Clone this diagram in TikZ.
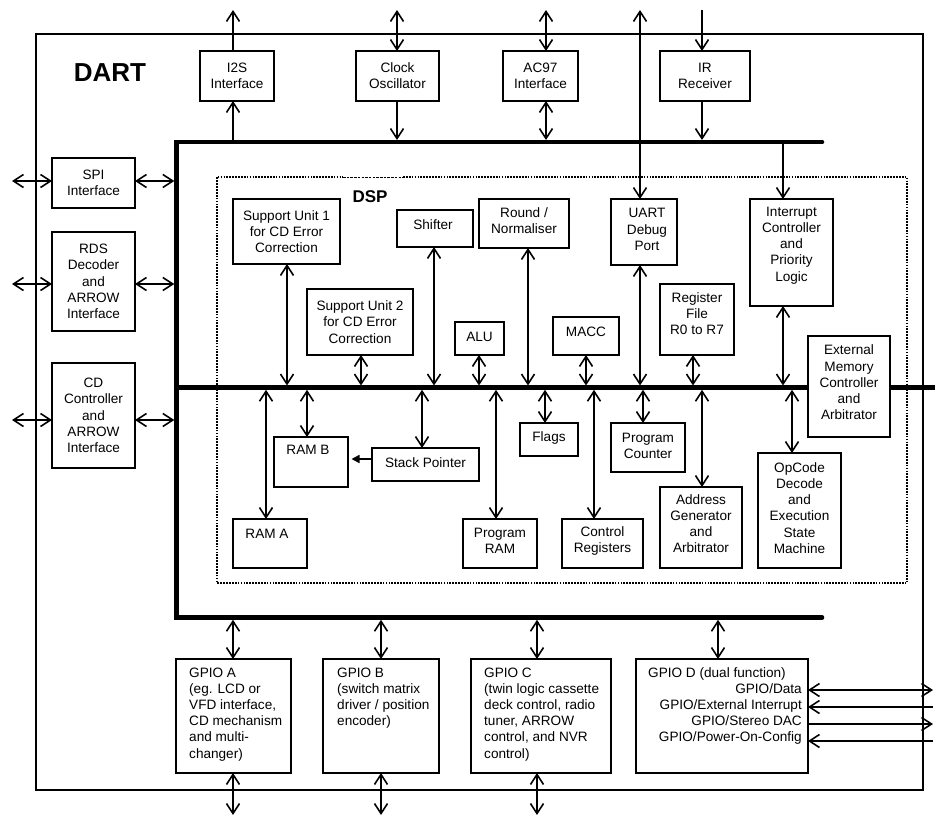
\documentclass[tikz,border=0pt]{standalone}
\usepackage{fontspec}
\setmainfont{Liberation Sans}
\usetikzlibrary{arrows.meta}
\newcommand\blk[7][]{%
  \node[box, minimum width={(#5)-(#3)}, minimum height={(#6)-(#4)}] (#2) at ({((#3)+(#5))/2},{((#4)+(#6))/2}) {};
  \node[txt,#1] (#2t) at (#2.center) {#7};}
\begin{document}
\begin{tikzpicture}[x=1pt,y=-1pt,
  box/.style={draw, line width=1.8pt, fill=white, inner sep=0pt, outer sep=0pt},
  txt/.style={font=\fontsize{13.6}{16.2}\selectfont, align=center, inner sep=0pt},
  con/.style={line width=1.6pt},
  bus/.style={line width=4.6pt, line cap=round},
  >={Straight Barb[length=10pt,width=13pt]}]
\useasboundingbox (0,0) rectangle (935,817);

% outer DART frame and DSP region
\draw[line width=1.3pt] (36,34) rectangle (923,790);
\node[font=\fontsize{26}{30}\selectfont\bfseries, inner sep=0pt] (dart) at (110,73) {DART};
\draw[line width=2pt, dash pattern=on 1.7pt off 1.2pt] (403,177) -- (907,177) -- (907,583) -- (217,583) -- (217,177) -- (343,177);
\draw[line width=1pt, dash pattern=on 2.5pt off 1.2pt] (343,177) -- (403,177);
\node[font=\fontsize{17}{20}\selectfont\bfseries, inner sep=0pt] (dsp) at (370,197) {DSP};

% buses
\coordinate (TBL) at (176.5,142);
\coordinate (TBR) at (822,142);
\coordinate (BBL) at (176.5,617.5);
\coordinate (BBR) at (822,617.5);
\coordinate (MBL) at (176.5,387.5);
\coordinate (MBR) at (945,387.5);
\draw[bus] (TBR) -- (TBL) -- (BBL) -- (BBR);
\draw[bus] (MBL) -- (MBR);

% free ends
\coordinate (topE) at (0,10);
\coordinate (botE) at (0,815);
\coordinate (leftE) at (12,0);
\coordinate (rightE) at (933,0);

% top blocks
\blk{i2s}{200}{51}{274}{101}{I2S\\Interface}
\blk{clk}{356}{51}{439}{101}{Clock\\Oscillator}
\blk{ac97}{503}{51}{578}{101}{AC97\\Interface}
\blk{ir}{660}{51}{750}{101}{IR\\Receiver}
% left blocks
\blk{spi}{52}{158}{135}{208}{SPI\\Interface}
\blk{rds}{52}{232}{135}{331}{RDS\\Decoder\\and\\ARROW\\Interface}
\blk{cd}{52}{363}{135}{468}{CD\\Controller\\and\\ARROW\\Interface}
% DSP upper
\blk{su1}{233}{199}{340}{264}{Support Unit 1\\for CD Error\\Correction}
\blk{su2}{307}{289}{413}{355}{Support Unit 2\\for CD Error\\Correction}
\blk[yshift=4pt,xshift=-2pt]{shf}{397}{210}{473}{247}{Shifter}
\blk[yshift=3pt]{rnd}{479}{199}{569}{248}{Round /\\Normaliser}
\blk[yshift=2pt]{alu}{455}{322}{504}{355}{ALU}
\blk[yshift=4pt]{macc}{553}{317}{619}{355}{MACC}
\blk[yshift=2.5pt,xshift=3pt]{uart}{611}{199}{677}{265}{UART\\Debug\\Port}
\blk[yshift=6pt]{reg}{660}{284}{734}{355}{Register\\File\\R0 to R7}
\blk[yshift=7pt]{intc}{750}{199}{833}{306}{Interrupt\\Controller\\and\\Priority\\Logic}
\blk[yshift=4pt]{ext}{808}{336}{890}{437}{External\\Memory\\Controller\\and\\Arbitrator}
% DSP lower
\blk[yshift=12pt,xshift=-3pt]{ramb}{274}{437}{348}{487}{RAM B}
\blk[yshift=2pt]{sp}{372}{448}{479}{481}{Stack Pointer}
\blk[yshift=10pt,xshift=-3pt]{rama}{233}{519}{307}{568}{RAM A}
\blk[yshift=2.5pt]{pram}{463}{519}{537}{568}{Program\\RAM}
\blk[yshift=2pt]{flags}{520}{423}{578}{456}{Flags}
\blk[yshift=2.5pt]{ctrl}{562}{519}{643}{568}{Control\\Registers}
\blk[yshift=2pt]{pc}{611}{423}{685}{472}{Program\\Counter}
\blk[yshift=4pt]{agen}{660}{487}{742}{568}{Address\\Generator\\and\\Arbitrator}
\blk[yshift=2.5pt]{opc}{758}{453}{841}{568}{OpCode\\Decode\\and\\Execution\\State\\Machine}

% GPIO blocks
\node[box, minimum width=115, minimum height=114] (ga) at (233.5,716) {};
\node[box, minimum width=116, minimum height=114] (gb) at (381,716) {};
\node[box, minimum width=140, minimum height=114] (gc) at (541,716) {};
\node[box, minimum width=172, minimum height=114] (gd) at (722,716) {};
\node[txt, align=left, anchor=north west] (gat) at (189,667.3) {GPIO A\\(eg. LCD or\\VFD interface,\\CD mechanism\\and multi-\\changer)};
\node[txt, align=left, anchor=north west] (gbt) at (337,667.3) {GPIO B\\(switch matrix\\driver / position\\encoder)};
\node[txt, align=left, anchor=north west] (gct) at (484,667.3) {GPIO C\\(twin logic cassette\\deck control, radio\\tuner, ARROW\\control, and NVR\\control)};
\node[txt, align=left, anchor=north west] (gdt) at (648,667) {GPIO D (dual function)};
\node[txt, align=right, anchor=north east] (gdr) at (802,683) {GPIO/Data\\GPIO/External Interrupt\\GPIO/Stereo DAC\\GPIO/Power-On-Config};

% bus taps
\coordinate (tI2S) at (233,140);
\coordinate (tClk) at (397,140);
\coordinate (tAC) at (546,140);
\coordinate (tUART) at (640,140);
\coordinate (tIR) at (702,140);
\coordinate (tInt) at (783,142);
\coordinate (mSU1) at (287,385.5);
\coordinate (mSU2) at (361,385.5);
\coordinate (mShf) at (434,385.5);
\coordinate (mAlu) at (479,385.5);
\coordinate (mRnd) at (528,385.5);
\coordinate (mMacc) at (586,385.5);
\coordinate (mUart) at (640,385.5);
\coordinate (mReg) at (693,385.5);
\coordinate (mInt) at (783,385.5);
\coordinate (mRamA) at (266,389.8);
\coordinate (mRamB) at (307,389.8);
\coordinate (mSP) at (422,389.8);
\coordinate (mPram) at (496,389.8);
\coordinate (mFlags) at (545,389.8);
\coordinate (mCtrl) at (594,389.8);
\coordinate (mPC) at (643,389.8);
\coordinate (mAgen) at (702,389.8);
\coordinate (mOpc) at (792,389.8);
\coordinate (bA) at (233,619.8);
\coordinate (bB) at (381,619.8);
\coordinate (bC) at (537,619.8);
\coordinate (bD) at (718,619.8);
\coordinate (lSPI) at (174.3,181);
\coordinate (lRDS) at (174.3,284);
\coordinate (lCD) at (174.3,420);
\coordinate (spA) at (372,459);
\coordinate (d1) at (933,690);
\coordinate (d2) at (933,707);
\coordinate (d3) at (933,724);
\coordinate (d4) at (933,741);

% top connectors
\draw[con,->] (i2s.north -| tI2S) -- (tI2S |- topE);
\draw[con,->] (tI2S) -- (i2s.south -| tI2S);
\draw[con,<->] (clk.north -| tClk) -- (tClk |- topE);
\draw[con,->] (clk.south -| tClk) -- (tClk);
\draw[con,<->] (ac97.north -| tAC) -- (tAC |- topE);
\draw[con,<->] (ac97.south -| tAC) -- (tAC);
\draw[con,<->] (uart.north -| tUART) -- (tUART |- topE);
\draw[con,->] (tIR |- topE) -- (ir.north -| tIR);
\draw[con,->] (ir.south -| tIR) -- (tIR);
\draw[con,->] (tInt) -- (intc.north -| tInt);

% left connectors
\draw[con,<->] (spi.east |- lSPI) -- (lSPI);
\draw[con,<->] (spi.west |- lSPI) -- (lSPI -| leftE);
\draw[con,<->] (rds.east |- lRDS) -- (lRDS);
\draw[con,<->] (rds.west |- lRDS) -- (lRDS -| leftE);
\draw[con,<->] (cd.east |- lCD) -- (lCD);
\draw[con,<->] (cd.west |- lCD) -- (lCD -| leftE);

% DSP connectors above the bus
\draw[con,<->] (su1.south -| mSU1) -- (mSU1);
\draw[con,<->] (su2.south -| mSU2) -- (mSU2);
\draw[con,<->] (shf.south -| mShf) -- (mShf);
\draw[con,<->] (alu.south -| mAlu) -- (mAlu);
\draw[con,<->] (rnd.south -| mRnd) -- (mRnd);
\draw[con,<->] (macc.south -| mMacc) -- (mMacc);
\draw[con,<->] (uart.south -| mUart) -- (mUart);
\draw[con,<->] (reg.south -| mReg) -- (mReg);
\draw[con,<->] (intc.south -| mInt) -- (mInt);
% DSP connectors below the bus
\draw[con,<->] (mRamA) -- (rama.north -| mRamA);
\draw[con,<->] (mRamB) -- (ramb.north -| mRamB);
\draw[con,<->] (mSP) -- (sp.north -| mSP);
\draw[con,<->] (mPram) -- (pram.north -| mPram);
\draw[con,<->] (mFlags) -- (flags.north -| mFlags);
\draw[con,<->] (mCtrl) -- (ctrl.north -| mCtrl);
\draw[con,<->] (mPC) -- (pc.north -| mPC);
\draw[con,<->] (mAgen) -- (agen.north -| mAgen);
\draw[con,<->] (mOpc) -- (opc.north -| mOpc);
\draw[con,-{Triangle[length=8pt,width=8pt]}, shorten >=3.5pt] (sp.west |- spA) -- (ramb.east |- spA);

% bottom connectors
\draw[con,<->] (bA) -- (ga.north -| bA);
\draw[con,<->] (ga.south -| bA) -- (bA |- botE);
\draw[con,<->] (bB) -- (gb.north -| bB);
\draw[con,<->] (gb.south -| bB) -- (bB |- botE);
\draw[con,<->] (bC) -- (gc.north -| bC);
\draw[con,<->] (gc.south -| bC) -- (bC |- botE);
\draw[con,<->] (bD) -- (gd.north -| bD);

% GPIO D side lines
\draw[con,<->] (gd.east |- d1) -- (d1);
\draw[con,->] (d2) -- (gd.east |- d2);
\draw[con,->] (gd.east |- d3) -- (d3);
\draw[con,->] (d4) -- (gd.east |- d4);
\end{tikzpicture}
\end{document}
